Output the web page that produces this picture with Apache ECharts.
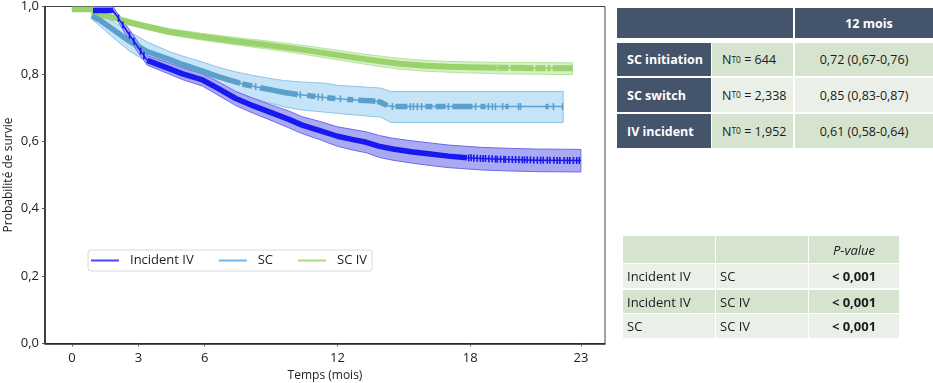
<!DOCTYPE html>
<html><head><meta charset="utf-8">
<script src="https://cdn.jsdelivr.net/npm/echarts@6/dist/echarts.min.js"></script>
<style>
html,body{margin:0;padding:0;background:#fff;}
#chart{position:absolute;left:0;top:0;width:933px;height:383px;}
.c{position:absolute;box-sizing:border-box;font-family:'Open Sans',sans-serif;display:flex;align-items:center;white-space:nowrap;color:#1a1a1a;}
.c sub{font-size:8.5px;vertical-align:-2px;line-height:0;}
</style></head><body>
<div id="chart"></div>
<div id="tables"></div>
<script>
// ---------- data ----------
const xTicks = [0, 3, 6, 12, 18, 23];
const yTicks = [0, 0.2, 0.4, 0.6, 0.8, 1.0];
const seriesNames = ['Incident IV', 'SC', 'SC IV'];

// Incident IV: [time, survival, denseCensoringFlag]
const ivCurve = [[0.95,0.988,1],[1.85,0.988,0],[2.0,0.975,0],[2.5,0.925,0],[3.0,0.878,0],[3.4,0.84,1],[4.3,0.818,1],[5.0,0.80,1],[5.9,0.782,1],[6.6,0.757,1],[7.4,0.727,1],[8.2,0.705,1],[9.0,0.685,1],[9.8,0.665,1],[10.4,0.648,1],[11.2,0.632,1],[12.0,0.615,1],[12.7,0.605,1],[13.3,0.597,1],[13.9,0.585,1],[14.5,0.577,1],[15.4,0.568,1],[16.2,0.562,1],[17.0,0.556,1],[17.85,0.551,0],[18.5,0.549,0],[19.8,0.546,0],[21.0,0.544,0],[23.0,0.543,0]];
const ivUpper = [[0.95,1.0],[1.85,1.0],[2.0,0.985],[2.5,0.94],[3.0,0.893],[3.4,0.854],[4.3,0.834],[5.0,0.818],[5.9,0.80],[6.6,0.777],[7.4,0.748],[8.2,0.727],[9.0,0.708],[9.8,0.69],[10.4,0.673],[11.2,0.659],[12.0,0.643],[12.7,0.635],[13.3,0.628],[13.9,0.617],[14.5,0.609],[15.4,0.601],[16.2,0.595],[17.0,0.589],[17.85,0.585],[18.5,0.582],[19.8,0.579],[21.0,0.577],[23.0,0.576]];
const ivLower = [[0.95,0.985],[1.85,0.985],[2.0,0.965],[2.5,0.91],[3.0,0.863],[3.4,0.826],[4.3,0.802],[5.0,0.783],[5.9,0.764],[6.6,0.737],[7.4,0.706],[8.2,0.683],[9.0,0.662],[9.8,0.64],[10.4,0.623],[11.2,0.605],[12.0,0.585],[12.7,0.574],[13.3,0.566],[13.9,0.552],[14.5,0.544],[15.4,0.535],[16.2,0.528],[17.0,0.522],[17.85,0.518],[18.5,0.515],[19.8,0.512],[21.0,0.51],[23.0,0.509]];
const ivCensor = [[2.1,0.965],[2.3,0.945],[2.6,0.915],[2.8,0.897],[3.1,0.868],[3.25,0.854],[17.93,0.551],[18.04,0.551],[18.16,0.550],[18.31,0.550],[18.46,0.549],[18.58,0.549],[18.69,0.549],[18.84,0.548],[18.99,0.548],[19.14,0.547],[19.22,0.547],[19.37,0.547],[19.52,0.547],[19.59,0.546],[19.74,0.546],[19.90,0.546],[20.05,0.546],[20.20,0.545],[20.35,0.545],[20.45,0.545],[20.57,0.545],[20.72,0.545],[20.87,0.544],[21.03,0.544],[21.18,0.544],[21.30,0.544],[21.48,0.544],[21.60,0.544],[21.78,0.544],[21.93,0.543],[22.05,0.543],[22.24,0.543],[22.39,0.543],[22.50,0.543],[22.66,0.543],[22.81,0.543],[22.93,0.543]];

// SC
const scCurve = [[0.9,0.972,1],[1.3,0.958,1],[2.0,0.925,1],[2.6,0.897,1],[3.4,0.866,1],[4.4,0.843,1],[5.0,0.828,1],[5.9,0.808,1],[6.6,0.792,1],[7.4,0.776,1],[7.6,0.772,0],[7.7,0.770,1],[8.14,0.764,0],[8.5,0.759,1],[8.9,0.754,1],[9.6,0.745,1],[10.2,0.739,0],[10.63,0.736,1],[11.0,0.733,0],[11.54,0.729,1],[11.9,0.727,0],[12.44,0.724,1],[12.71,0.723,0],[12.94,0.722,1],[13.5,0.720,1],[13.71,0.719,0],[13.8,0.718,1],[13.95,0.716,1],[14.25,0.706,0],[14.45,0.703,0],[14.62,0.703,1],[15.16,0.703,0],[15.97,0.703,1],[16.29,0.703,0],[16.43,0.703,1],[16.88,0.703,0],[17.19,0.703,1],[18.1,0.703,0],[18.46,0.703,1],[18.69,0.703,0],[19.59,0.703,1],[19.73,0.703,0],[21.4,0.703,1],[21.54,0.703,0],[22.2,0.703,0]];
const scUpper = [[0.9,0.98],[1.3,0.975],[2.0,0.95],[2.6,0.925],[3.4,0.895],[4.4,0.866],[5.0,0.853],[5.9,0.835],[6.6,0.82],[7.4,0.806],[8.2,0.795],[8.9,0.787],[9.6,0.78],[10.4,0.776],[11.5,0.772],[12.0,0.766],[13.5,0.76],[13.95,0.758],[14.4,0.748],[22.2,0.748]];
const scLower = [[0.9,0.962],[1.3,0.94],[2.0,0.9],[2.6,0.868],[3.4,0.835],[4.4,0.812],[5.0,0.797],[5.9,0.776],[6.6,0.76],[7.4,0.743],[8.2,0.728],[8.9,0.714],[9.6,0.702],[10.4,0.693],[11.5,0.686],[12.0,0.683],[13.5,0.674],[13.95,0.672],[14.4,0.656],[22.2,0.656]];
const scCensor = [[8.3,0.762],[10.32,0.738],[11.13,0.732],[11.31,0.731],[12.13,0.726],[14.48,0.703],[15.29,0.703],[15.43,0.703],[15.61,0.703],[15.8,0.703],[17.01,0.703],[18.24,0.703],[18.82,0.703],[19.0,0.703],[19.14,0.703],[19.46,0.703],[20.18,0.703],[20.27,0.703],[21.76,0.703],[22.17,0.703]];

// SC IV
const sivCurve = [[0,0.992,1],[0.95,0.992,1],[1.05,0.979,1],[1.3,0.976,1],[2.0,0.965,1],[2.6,0.952,1],[3.4,0.94,1],[4.4,0.925,1],[5.8,0.911,1],[7.4,0.897,1],[8.8,0.886,1],[10.4,0.872,1],[11.8,0.858,1],[13.3,0.843,1],[14.8,0.83,1],[16.0,0.824,1],[17.0,0.821,1],[18.5,0.819,1],[19.2,0.818,0],[19.32,0.818,1],[19.73,0.818,0],[19.82,0.818,1],[20.86,0.817,0],[20.95,0.817,1],[21.4,0.817,0],[21.49,0.817,1],[21.63,0.817,0],[21.72,0.817,1],[22.62,0.817,0]];
const sivUpper = [[0,0.996],[0.95,0.996],[1.05,0.986],[2.0,0.972],[3.4,0.948],[4.4,0.934],[5.8,0.921],[7.4,0.908],[8.8,0.898],[10.4,0.885],[11.8,0.872],[13.3,0.858],[14.8,0.846],[16.0,0.840],[17.0,0.837],[18.5,0.835],[19.5,0.834],[22.62,0.833]];
const sivLower = [[0,0.988],[0.95,0.988],[1.05,0.972],[2.0,0.958],[3.4,0.932],[4.4,0.916],[5.8,0.901],[7.4,0.886],[8.8,0.874],[10.4,0.859],[11.8,0.844],[13.3,0.828],[14.8,0.814],[16.0,0.808],[17.0,0.805],[18.5,0.802],[19.5,0.8],[22.62,0.798]];
const sivCensor = [[19.27,0.818]];

// tables
const survHeader = '12 mois';
const survGroups = ['SC initiation', 'SC switch', 'IV incident'];
const survN = ['644', '2,338', '1,952'];
const survValues = ['0,72 (0,67-0,76)', '0,85 (0,83-0,87)', '0,61 (0,58-0,64)'];
const pHeader = 'P-value';
const pGroupA = ['Incident IV', 'Incident IV', 'SC'];
const pGroupB = ['SC', 'SC IV', 'SC IV'];
const pValues = ['< 0,001', '< 0,001', '< 0,001'];

// ---------- styles ----------
const C = {
  iv: {line:'#1818f0', fill:'#aaaaf2', stroke:'#6a6aec', legend:'#4646ff'},
  sc: {line:'#5c9fcb', fill:'#c6e4f8', stroke:'#8cc3e9', legend:'#6fb6ea'},
  siv:{line:'#9ad36d', fill:'#d8f0c7', stroke:'#b6e39b', legend:'#a8dc82'}
};
const FONT = "'Open Sans', sans-serif";

function bandSeries(name, upper, lower, col) {
  return {
    type:'custom', name, coordinateSystem:'cartesian2d', clip:true, silent:true, z:1,
    data:[[upper[0][0], upper[0][1]]], encode:{x:0, y:1},
    renderItem(params, api) {
      const pts = upper.map(p => api.coord([p[0], p[1]]))
        .concat(lower.slice().reverse().map(p => api.coord([p[0], p[1]])));
      return {type:'polygon', shape:{points:pts}, style:{fill:col.fill, stroke:col.stroke, lineWidth:1}};
    }
  };
}
function curveSeries(name, curve, col, thick, z) {
  return {
    type:'custom', name, coordinateSystem:'cartesian2d', clip:true, silent:true, z,
    data:[[curve[0][0], curve[0][1]]], encode:{x:0, y:1},
    renderItem(params, api) {
      const pts = curve.map(p => api.coord([p[0], p[1]]));
      const children = [{type:'polyline', shape:{points:pts}, style:{stroke:col.line, lineWidth:1.5, fill:null}}];
      let run = null;
      for (let i = 0; i < curve.length; i++) {
        if (run) run.push(pts[i]);
        if (curve[i][2] === 1) { if (!run) run = [pts[i]]; }
        else if (run) {
          children.push({type:'polyline', shape:{points:run}, style:{stroke:col.line, lineWidth:thick, fill:null, lineCap:'butt', lineJoin:'round'}});
          run = null;
        }
      }
      if (run && run.length > 1) children.push({type:'polyline', shape:{points:run}, style:{stroke:col.line, lineWidth:thick, fill:null, lineCap:'butt'}});
      return {type:'group', children};
    }
  };
}
function censorSeries(name, pts, col, z) {
  return {type:'scatter', name, data:pts, symbol:'rect', symbolSize:[1.6, 7], silent:true, z,
    itemStyle:{color:col.line, opacity:1}};
}

const chart = echarts.init(document.getElementById('chart'), null, {renderer:'canvas'});
chart.setOption({
  animation:false,
  backgroundColor:'#fff',
  grid:{left:45, top:6.5, width:560, height:337, outerBoundsMode:'none', containLabel:false,
    show:true, borderColor:'#444', borderWidth:1, backgroundColor:'transparent'},
  legend:{
    left:88, top:250, orient:'horizontal', icon:'rect', itemWidth:28, itemHeight:2, itemGap:25,
    padding:[4,5,4,3], backgroundColor:'#fff', borderColor:'#d9d9d9', borderWidth:1, borderRadius:3,
    selectedMode:false,
    textStyle:{fontFamily:FONT, fontSize:13, color:'#222', padding:[0,0,0,6]},
    data:[
      {name:seriesNames[0], itemStyle:{color:C.iv.legend}},
      {name:seriesNames[1], itemStyle:{color:C.sc.legend}},
      {name:seriesNames[2], itemStyle:{color:C.siv.legend}}
    ]
  },
  xAxis:{
    type:'value', min:-1.22, max:24.09,
    name:'Temps (mois)', nameLocation:'middle', nameGap:24,
    nameTextStyle:{fontFamily:FONT, fontSize:12, color:'#222'},
    axisLine:{show:true, onZero:false, lineStyle:{color:'#222', width:1.5}},
    axisTick:{show:true, customValues:xTicks, length:3, lineStyle:{color:'#555'}},
    axisLabel:{customValues:xTicks, fontFamily:FONT, fontSize:13, color:'#222', margin:8},
    splitLine:{show:false}
  },
  yAxis:{
    type:'value', min:0, max:1, interval:0.2,
    name:'Probabilité de survie', nameLocation:'middle', nameGap:30, nameRotate:90, nameMoveOverlap:false,
    nameTextStyle:{fontFamily:FONT, fontSize:12, color:'#222'},
    axisLine:{show:true, onZero:false, lineStyle:{color:'#222', width:1.5}},
    axisTick:{show:true, length:3, lineStyle:{color:'#555'}},
    axisLabel:{fontFamily:FONT, fontSize:13, color:'#222', margin:6,
      formatter:v => v.toFixed(1).replace('.', ',')},
    splitLine:{show:false}
  },
  series:[
    bandSeries(seriesNames[1], scUpper, scLower, C.sc),
    bandSeries(seriesNames[2], sivUpper, sivLower, C.siv),
    bandSeries(seriesNames[0], ivUpper, ivLower, C.iv),
    curveSeries(seriesNames[2], sivCurve, C.siv, 6, 3),
    censorSeries(seriesNames[2], sivCensor, C.siv, 3),
    curveSeries(seriesNames[1], scCurve, C.sc, 5.5, 4),
    censorSeries(seriesNames[1], scCensor, C.sc, 4),
    curveSeries(seriesNames[0], ivCurve, C.iv, 5.5, 5),
    censorSeries(seriesNames[0], ivCensor, C.iv, 5)
  ]
});

// ---------- tables ----------
const T = document.getElementById('tables');
function cell(x0, x1, y0, y1, bg, html, st) {
  const d = document.createElement('div');
  d.className = 'c';
  Object.assign(d.style, {left:x0+'px', top:y0+'px', width:(x1-x0)+'px', height:(y1-y0)+'px', background:bg}, st || {});
  d.innerHTML = html;
  T.appendChild(d);
}
const DARK = '#44546a', G1 = '#d6e3cf', G2 = '#eaf0e7';
// table 1
const t1Cols = [[617,711],[712,793],[795,933]];
const t1Rows = [[43,76],[78,112],[114,148]];
cell(617, 793, 8, 38, DARK, '');
cell(795, 933, 8, 38, DARK, survHeader, {color:'#fff', fontWeight:'700', fontSize:'12.5px', justifyContent:'center', paddingLeft:'10px'});
survGroups.forEach((g, i) => {
  const [y0, y1] = t1Rows[i];
  const bg = i === 1 ? G2 : G1;
  cell(t1Cols[0][0], t1Cols[0][1], y0, y1, DARK, g, {color:'#fff', fontWeight:'700', fontSize:'12.5px', paddingLeft:'10px'});
  cell(t1Cols[1][0], t1Cols[1][1], y0, y1, bg, 'N<sub>T0</sub>&nbsp;= ' + survN[i], {fontSize:'12.5px', paddingLeft:'10px'});
  cell(t1Cols[2][0], t1Cols[2][1], y0, y1, bg, survValues[i], {fontSize:'12.5px', justifyContent:'center'});
});
// table 2
const t2Cols = [[623,715],[716,808],[809,899]];
const t2Rows = [[236,263],[264,288],[290,313],[314,338]];
cell(t2Cols[0][0], t2Cols[0][1], t2Rows[0][0], t2Rows[0][1], G1, '');
cell(t2Cols[1][0], t2Cols[1][1], t2Rows[0][0], t2Rows[0][1], G1, '');
cell(t2Cols[2][0], t2Cols[2][1], t2Rows[0][0], t2Rows[0][1], G1, pHeader, {fontStyle:'italic', fontSize:'13px', justifyContent:'center'});
pGroupA.forEach((a, i) => {
  const [y0, y1] = t2Rows[i + 1];
  const bg = i === 1 ? G1 : G2;
  cell(t2Cols[0][0], t2Cols[0][1], y0, y1, bg, a, {fontSize:'13px', paddingLeft:'4px'});
  cell(t2Cols[1][0], t2Cols[1][1], y0, y1, bg, pGroupB[i], {fontSize:'13px', paddingLeft:'4px'});
  cell(t2Cols[2][0], t2Cols[2][1], y0, y1, bg, pValues[i], {fontSize:'13px', fontWeight:'700', justifyContent:'center'});
});
</script>
</body></html>
